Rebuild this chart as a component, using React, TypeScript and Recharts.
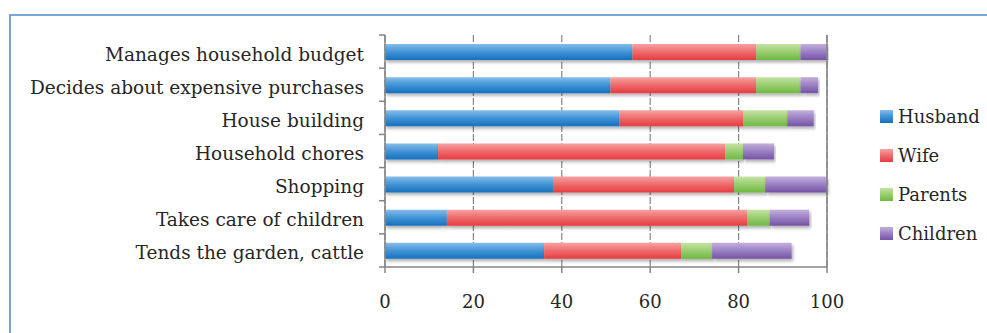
import React from "react";
import {
  BarChart,
  Bar,
  XAxis,
  YAxis,
  CartesianGrid,
  ReferenceLine,
} from "recharts";

// Who in the household is responsible for each task (percent of answers)
const tasks = [
  "Manages household budget",
  "Decides about expensive purchases",
  "House building",
  "Household chores",
  "Shopping",
  "Takes care of children",
  "Tends the garden, cattle",
];
const husband = [56, 51, 53, 12, 38, 14, 36];
const wife = [28, 33, 28, 65, 41, 68, 31];
const parents = [10, 10, 10, 4, 7, 5, 7];
const children = [6, 4, 6, 7, 14, 9, 18];
const xTicks = [0, 20, 40, 60, 80, 100];

const series = [
  { key: "husband", name: "Husband", top: "#86bde9", mid: "#3f93d6", bottom: "#1670bd" },
  { key: "wife", name: "Wife", top: "#f7a2a2", mid: "#ee6a6b", bottom: "#e53d40" },
  { key: "parents", name: "Parents", top: "#c6e3a4", mid: "#98cd6f", bottom: "#6fb843" },
  { key: "children", name: "Children", top: "#c2afdb", mid: "#9a7fc3", bottom: "#7553a3" },
];

const data = tasks.map((task, i) => ({
  task,
  husband: husband[i],
  wife: wife[i],
  parents: parents[i],
  children: children[i],
}));

const FONT = "'DejaVu Serif', serif";
const TEXT = "#262626";
const AXIS = "#858585";
const TICK_MARGIN = 21;

function CategoryTick(props: any) {
  const { x, y, payload, index, visibleTicksCount } = props;
  const half = payload && payload.offset ? payload.offset : 16.5;
  const axisX = x + TICK_MARGIN;
  const last = (visibleTicksCount ?? tasks.length) - 1;
  return (
    <g>
      <text
        x={x}
        y={y}
        dy={9}
        textAnchor="end"
        fontFamily={FONT}
        fontSize={18.5}
        fill={TEXT}
      >
        {payload.value}
      </text>
      <line x1={axisX - 6} x2={axisX} y1={y - half} y2={y - half} stroke={AXIS} strokeWidth={1.5} />
      {index === last && (
        <line x1={axisX - 6} x2={axisX} y1={y + half} y2={y + half} stroke={AXIS} strokeWidth={1.5} />
      )}
    </g>
  );
}

function LegendBox() {
  return (
    <div
      style={{
        position: "absolute",
        left: 880,
        top: 97,
        display: "flex",
        flexDirection: "column",
      }}
    >
      {series.map((s) => (
        <div key={s.key} style={{ display: "flex", alignItems: "center", height: 39 }}>
          <div
            style={{
              width: 13,
              height: 13,
              marginRight: 5,
              background: `linear-gradient(${s.top}, ${s.mid}, ${s.bottom})`,
            }}
          />
          <span style={{ fontFamily: FONT, fontSize: 18, color: TEXT }}>{s.name}</span>
        </div>
      ))}
    </div>
  );
}

export default function App() {
  return (
    <div
      style={{
        position: "absolute",
        left: 0,
        top: 0,
        width: 987,
        height: 333,
        background: "#fff",
        overflow: "hidden",
      }}
    >
      <div
        style={{
          position: "absolute",
          left: 9,
          top: 14,
          width: 1000,
          height: 400,
          border: "2px solid #79a7dc",
        }}
      />
      <BarChart
        width={987}
        height={333}
        data={data}
        layout="vertical"
        margin={{ top: 35, right: 160, bottom: 0, left: 0 }}
        barSize={16}
        style={{ position: "absolute", left: 0, top: 0 }}
      >
        <defs>
          {series.map((s) => (
            <linearGradient key={s.key} id={`grad-${s.key}`} x1="0" y1="0" x2="0" y2="1">
              <stop offset="0%" stopColor={s.top} />
              <stop offset="50%" stopColor={s.mid} />
              <stop offset="100%" stopColor={s.bottom} />
            </linearGradient>
          ))}
          <filter id="barShadow" x="-5%" y="-30%" width="110%" height="180%">
            <feDropShadow dx="1.5" dy="2.5" stdDeviation="1.5" floodColor="#000" floodOpacity="0.3" />
          </filter>
        </defs>
        <CartesianGrid
          horizontal={false}
          stroke={AXIS}
          strokeDasharray="7 2"
          strokeWidth={1.2}
        />
        <XAxis
          type="number"
          domain={[0, 100]}
          ticks={xTicks}
          height={66}
          tickSize={6}
          tickMargin={22}
          stroke={AXIS}
          strokeWidth={1.5}
          tick={{ fontFamily: FONT, fontSize: 18, fill: TEXT }}
        />
        <YAxis
          type="category"
          dataKey="task"
          width={385}
          tickSize={0}
          tickMargin={TICK_MARGIN}
          tickLine={false}
          stroke={AXIS}
          strokeWidth={1.5}
          interval={0}
          tick={<CategoryTick />}
        />
        <ReferenceLine x={100} stroke={AXIS} strokeWidth={1.5} />
        {series.map((s) => (
          <Bar
            key={s.key}
            dataKey={s.key}
            name={s.name}
            stackId="share"
            fill={`url(#grad-${s.key})`}
            style={{ filter: "url(#barShadow)" }}
            isAnimationActive={false}
          />
        ))}
      </BarChart>
      <LegendBox />
    </div>
  );
}
